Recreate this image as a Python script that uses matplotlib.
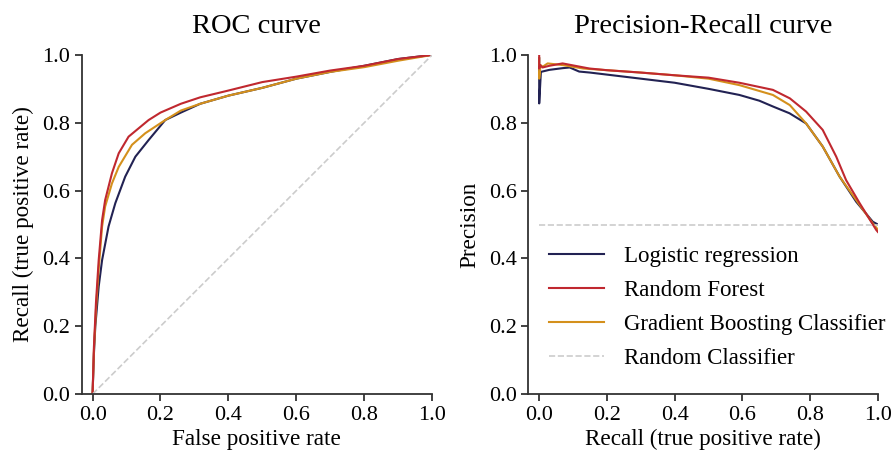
import numpy as np
import matplotlib.pyplot as plt

plt.rcParams['font.family'] = ['Liberation Serif', 'DejaVu Serif']

# ROC curves (false positive rate, recall)
lr_fpr = [0.0, 0.004, 0.008, 0.018, 0.028, 0.047, 0.067, 0.096, 0.126, 0.165, 0.214, 0.26, 0.317, 0.4, 0.5, 0.6, 0.7, 0.8, 0.9, 1.0]
lr_tpr = [0.0, 0.12, 0.199, 0.317, 0.395, 0.494, 0.563, 0.641, 0.70, 0.749, 0.808, 0.83, 0.856, 0.88, 0.903, 0.93, 0.95, 0.968, 0.988, 1.0]
rf_fpr = [0.0, 0.004, 0.01, 0.018, 0.028, 0.037, 0.057, 0.077, 0.106, 0.165, 0.2, 0.26, 0.317, 0.4, 0.5, 0.6, 0.7, 0.8, 0.9, 1.0]
rf_tpr = [0.0, 0.14, 0.27, 0.395, 0.513, 0.572, 0.651, 0.71, 0.759, 0.808, 0.83, 0.856, 0.875, 0.895, 0.92, 0.936, 0.954, 0.968, 0.988, 1.0]
gb_fpr = [0.0, 0.004, 0.01, 0.018, 0.028, 0.037, 0.057, 0.077, 0.116, 0.155, 0.214, 0.26, 0.317, 0.4, 0.5, 0.6, 0.7, 0.8, 0.9, 1.0]
gb_tpr = [0.0, 0.13, 0.25, 0.37, 0.494, 0.553, 0.621, 0.67, 0.735, 0.769, 0.808, 0.836, 0.856, 0.88, 0.903, 0.93, 0.95, 0.964, 0.983, 1.0]

# Precision-Recall curves (recall, precision)
lr_rec = [0.0, 0.0, 0.005, 0.03, 0.069, 0.09, 0.118, 0.15, 0.2, 0.3, 0.4, 0.5, 0.591, 0.65, 0.69, 0.739, 0.788, 0.837, 0.887, 0.936, 0.985, 1.0]
lr_prec = [0.99, 0.857, 0.95, 0.956, 0.961, 0.963, 0.951, 0.948, 0.942, 0.93, 0.918, 0.90, 0.882, 0.865, 0.848, 0.828, 0.798, 0.73, 0.641, 0.567, 0.508, 0.50]
rf_rec = [0.0, 0.0, 0.003, 0.01, 0.03, 0.069, 0.148, 0.2, 0.3, 0.4, 0.5, 0.591, 0.69, 0.74, 0.788, 0.837, 0.877, 0.906, 0.946, 0.995, 1.0]
rf_prec = [1.0, 0.96, 0.97, 0.963, 0.968, 0.975, 0.96, 0.955, 0.948, 0.94, 0.933, 0.918, 0.897, 0.872, 0.833, 0.779, 0.70, 0.631, 0.563, 0.484, 0.478]
gb_rec = [0.0, 0.0, 0.004, 0.01, 0.025, 0.07, 0.13, 0.2, 0.3, 0.4, 0.5, 0.591, 0.69, 0.74, 0.788, 0.837, 0.887, 0.936, 0.985, 1.0]
gb_prec = [0.99, 0.93, 0.97, 0.965, 0.975, 0.97, 0.96, 0.955, 0.948, 0.94, 0.93, 0.911, 0.882, 0.852, 0.798, 0.73, 0.641, 0.572, 0.503, 0.485]

labels = ['Logistic regression', 'Random Forest', 'Gradient Boosting Classifier', 'Random Classifier']
colors = ['#222253', '#c0282f', '#d4901c']
grey = '#cccccc'

fig = plt.figure(figsize=(8.94, 4.54), dpi=100)
ax1 = fig.add_axes([0.0914, 0.132, 0.392, 0.747])
ax2 = fig.add_axes([0.591, 0.132, 0.391, 0.747])

# ROC
ax1.plot(lr_fpr, lr_tpr, color=colors[0], lw=1.5)
ax1.plot(gb_fpr, gb_tpr, color=colors[2], lw=1.5)
ax1.plot(rf_fpr, rf_tpr, color=colors[1], lw=1.5)
ax1.plot([0, 1], [0, 1], color=grey, lw=1.2, ls='--')
ax1.set_title('ROC curve', fontsize=20.5, pad=16)
ax1.set_xlabel('False positive rate', fontsize=16.7, labelpad=3)
ax1.set_ylabel('Recall (true positive rate)', fontsize=16.7, labelpad=6)

# PR
l1, = ax2.plot(lr_rec, lr_prec, color=colors[0], lw=1.5)
l3, = ax2.plot(gb_rec, gb_prec, color=colors[2], lw=1.5)
l2, = ax2.plot(rf_rec, rf_prec, color=colors[1], lw=1.5)
l4, = ax2.plot([0, 1], [0.5, 0.5], color=grey, lw=1.2, ls='--')
ax2.set_title('Precision-Recall curve', fontsize=20.5, pad=16)
ax2.set_xlabel('Recall (true positive rate)', fontsize=16.7, labelpad=3)
ax2.set_ylabel('Precision', fontsize=16.7, labelpad=6)
ax2.legend([l1, l2, l3, l4], labels, frameon=False, fontsize=16.5,
           loc='lower left', bbox_to_anchor=(0.0, 0.012), handlelength=2.4,
           handletextpad=0.87, labelspacing=0.57)

for ax in (ax1, ax2):
    ax.set_xlim(-0.032, 1.0)
    ax.set_ylim(0, 1.0)
    ax.set_xticks(np.arange(0, 1.01, 0.2))
    ax.set_yticks(np.arange(0, 1.01, 0.2))
    ax.spines['top'].set_visible(False)
    ax.spines['right'].set_visible(False)
    for s in ('left', 'bottom'):
        ax.spines[s].set_color('#333333')
        ax.spines[s].set_linewidth(1.3)
    ax.tick_params(labelsize=16, color='#333333', width=1.3, length=5)

plt.savefig('out.png', dpi=100)
